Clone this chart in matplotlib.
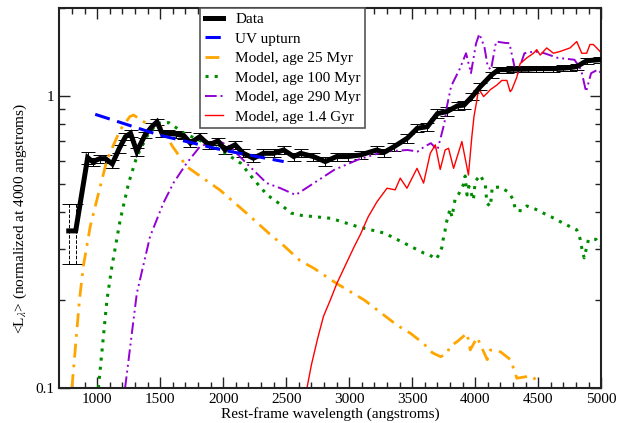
import numpy as np
import matplotlib
matplotlib.use('Agg')
import matplotlib.pyplot as plt
from matplotlib.ticker import FixedLocator, NullFormatter, FixedFormatter

plt.rcParams['font.family'] = ['Liberation Serif', 'DejaVu Serif']
plt.rcParams['mathtext.fontset'] = 'stix'

# stacked spectrum (data) with error bars
data_wl = [775, 830, 925, 965, 1020, 1065, 1120, 1175, 1225, 1265, 1315, 1380, 1435, 1475,
           1515, 1565, 1625, 1690, 1740, 1815, 1885, 1960, 2015, 2095, 2160, 2240, 2320,
           2400, 2480, 2560, 2615, 2715, 2810, 2900, 2990, 3090, 3220, 3275, 3355, 3460,
           3540, 3620, 3700, 3775, 3860, 3910, 3975, 4040, 4130, 4185, 4250, 4300, 4360,
           4420, 4480, 4540, 4620, 4700, 4750, 4805, 4885, 4990]
data_val = [0.345, 0.345, 0.615, 0.595, 0.61, 0.61, 0.585, 0.66, 0.725, 0.745, 0.645, 0.735,
            0.785, 0.815, 0.745, 0.745, 0.74, 0.73, 0.69, 0.725, 0.68, 0.70, 0.653, 0.68,
            0.636, 0.612, 0.636, 0.636, 0.653, 0.62, 0.636, 0.62, 0.596, 0.62, 0.62, 0.628,
            0.653, 0.64, 0.67, 0.716, 0.775, 0.785, 0.87, 0.884, 0.925, 0.93, 0.995, 1.076,
            1.18, 1.23, 1.23, 1.235, 1.234, 1.235, 1.24, 1.24, 1.24, 1.245, 1.25, 1.26,
            1.32, 1.33]
data_err = [0.08, 0.08, 0.03, 0.02, 0.02, 0.02, 0.02, 0.02, 0.02, 0.02, 0.02, 0.02,
            0.02, 0.02, 0.02, 0.02, 0.02, 0.02, 0.02, 0.02, 0.02, 0.02, 0.02, 0.02,
            0.02, 0.02, 0.02, 0.02, 0.02, 0.02, 0.02, 0.02, 0.02, 0.02, 0.02, 0.02,
            0.02, 0.02, 0.02, 0.025, 0.025, 0.025, 0.03, 0.03, 0.03, 0.03, 0.03, 0.03,
            0.03, 0.03, 0.03, 0.03, 0.03, 0.03, 0.03, 0.03, 0.03, 0.03, 0.03, 0.03,
            0.03, 0.03]

# UV upturn fit
uv_wl = [985, 1500, 2000, 2480]
uv_val = [0.865, 0.733, 0.652, 0.596]

# model, 25 Myr
m25_wl = [800, 860, 890, 945, 1025, 1078, 1183, 1260, 1290, 1360, 1430, 1470, 1500, 1535,
          1600, 1710, 1975, 2185, 2395, 2460, 2610, 2720, 2900, 3120, 3380, 3485, 3590,
          3660, 3725, 3775, 3800, 3855, 3935, 3960, 4015, 4095, 4120, 4200, 4280, 4330,
          4440, 4520]
m25_val = [0.1, 0.2, 0.26, 0.357, 0.49, 0.604, 0.765, 0.85, 0.86, 0.82, 0.79, 0.81, 0.79,
           0.745, 0.67, 0.573, 0.476, 0.397, 0.329, 0.313, 0.273, 0.257, 0.228, 0.2, 0.164,
           0.154, 0.142, 0.132, 0.128, 0.131, 0.139, 0.144, 0.154, 0.135, 0.149, 0.125,
           0.135, 0.133, 0.125, 0.108, 0.11, 0.104]

# model, 100 Myr
m100_wl = [1010, 1078, 1117, 1183, 1250, 1315, 1395, 1475, 1570, 1690, 1980, 2140, 2245,
           2350, 2455, 2540, 2620, 2855, 3065, 3280, 3465, 3590, 3640, 3690, 3715, 3735,
           3745, 3760, 3770, 3800, 3815, 3840, 3865, 3905, 3920, 3935, 3950, 3985, 4000,
           4040, 4080, 4092, 4120, 4135, 4200, 4265, 4303, 4318, 4370, 4410, 4475, 4540,
           4610, 4675, 4740, 4805, 4832, 4846, 4864, 4898, 4957, 5000]
m100_val = [0.1, 0.2, 0.26, 0.376, 0.503, 0.62, 0.726, 0.806, 0.81, 0.745, 0.653, 0.588,
            0.516, 0.458, 0.425, 0.397, 0.39, 0.381, 0.357, 0.339, 0.309, 0.29, 0.285,
            0.276, 0.288, 0.303, 0.322, 0.345, 0.367, 0.41, 0.385, 0.443, 0.458, 0.496,
            0.532, 0.458, 0.49, 0.44, 0.51, 0.536, 0.496, 0.43, 0.418, 0.487, 0.487, 0.468,
            0.44, 0.407, 0.404, 0.42, 0.41, 0.397, 0.384, 0.371, 0.359, 0.348, 0.324, 0.3,
            0.279, 0.322, 0.323, 0.306]

# model, 290 Myr
m290_wl = [1222, 1315, 1420, 1525, 1605, 1710, 1815, 1950, 2055, 2185, 2345, 2455, 2575,
           2720, 2880, 3065, 3278, 3463, 3543, 3595, 3648, 3700, 3728, 3755, 3775, 3808,
           3827, 3874, 3927, 3966, 4006, 4032, 4072, 4099, 4125, 4165, 4231, 4271, 4311,
           4337, 4390, 4470, 4548, 4654, 4787, 4840, 4879, 4919, 4972, 5000]
m290_val = [0.1, 0.211, 0.33, 0.429, 0.503, 0.588, 0.67, 0.707, 0.67, 0.588, 0.503, 0.483,
            0.458, 0.503, 0.558, 0.604, 0.645, 0.653, 0.645, 0.67, 0.689, 0.653, 0.726,
            0.806, 0.92, 1.076, 1.12, 1.23, 1.4, 1.196, 1.51, 1.63, 1.476, 1.26, 1.23,
            1.535, 1.52, 1.515, 1.26, 1.196, 1.4, 1.42, 1.4, 1.35, 1.33, 1.23, 1.034,
            1.196, 1.23, 1.196]

# model, 1.4 Gyr
m14_wl = [2665, 2700, 2750, 2796, 2850, 2902, 2982, 3040, 3088, 3150, 3220, 3300, 3365,
          3405, 3458, 3538, 3590, 3643, 3683, 3722, 3761, 3788, 3828, 3894, 3946, 3973,
          3990, 4013, 4026, 4066, 4092, 4119, 4172, 4211, 4251, 4277, 4290, 4330, 4356,
          4409, 4462, 4488, 4515, 4567, 4620, 4673, 4752, 4805, 4845, 4884, 4910, 4937,
          4990]
m14_val = [0.1, 0.12, 0.148, 0.176, 0.2, 0.228, 0.27, 0.305, 0.335, 0.385, 0.434, 0.483,
           0.477, 0.523, 0.483, 0.565, 0.503, 0.636, 0.68, 0.56, 0.653, 0.662, 0.565, 0.698,
           0.536, 0.726, 0.85, 0.969, 1.06, 0.995, 1.02, 1.05, 1.09, 1.13, 1.13, 1.034,
           1.05, 1.16, 1.29, 1.35, 1.4, 1.44, 1.38, 1.46, 1.4, 1.42, 1.46, 1.535, 1.4, 1.4,
           1.5, 1.5, 1.42]

fig = plt.figure(figsize=(6.34, 4.23), dpi=100)
ax = fig.add_axes([59.3 / 634, 1 - 388 / 423, (601.3 - 59.3) / 634, (388 - 8) / 423])

# error bars: first two dashed, rest solid
eb = ax.errorbar(data_wl[:2], data_val[:2], yerr=data_err[:2], fmt='none', ecolor='black',
                 elinewidth=0.7, capsize=5, capthick=0.7)
eb[2][0].set_linestyle('--')
ax.errorbar(data_wl[2:], data_val[2:], yerr=data_err[2:], fmt='none', ecolor='black',
            elinewidth=0.7, capsize=5, capthick=0.7)

ax.plot(m25_wl, m25_val, color='#ffa500', lw=2.0, ls=(0, (5, 2.5, 1, 2.5)),
        label='Model, age 25 Myr')
ax.plot(m100_wl, m100_val, color='#008c00', lw=2.2, ls=(0, (1, 2.0)),
        label='Model, age 100 Myr')
ax.plot(m290_wl, m290_val, color='#9400d3', lw=1.4, ls=(0, (6, 2, 1, 2, 1, 2)),
        label='Model, age 290 Myr')
ax.plot(m14_wl, m14_val, color='red', lw=1.0, label='Model, age 1.4 Gyr')
ax.plot(data_wl, data_val, color='black', lw=3.6, solid_joinstyle='miter', label='Data',
        zorder=5)
ax.plot(uv_wl, uv_val, color='#0000ff', lw=2.2, ls=(0, (5, 2.5)), label='UV upturn', zorder=6)

ax.set_yscale('log')
ax.set_xlim(700, 5000)
ax.set_ylim(0.1, 2)

ax.xaxis.set_major_locator(FixedLocator([1000, 1500, 2000, 2500, 3000, 3500, 4000, 4500, 5000]))
ax.xaxis.set_minor_locator(FixedLocator(list(range(800, 5000, 100))))
ax.yaxis.set_major_locator(FixedLocator([0.1, 1]))
ax.yaxis.set_major_formatter(FixedFormatter(['0.1', '1']))
ax.yaxis.set_minor_locator(FixedLocator([0.2, 0.3, 0.4, 0.5, 0.6, 0.7, 0.8, 0.9, 2]))
ax.yaxis.set_minor_formatter(NullFormatter())

ax.tick_params(which='both', direction='in', top=True, right=True, width=1.0,
               labelsize=11, color='#222222')
ax.tick_params(which='major', length=8)
ax.tick_params(which='minor', length=4)
for s in ax.spines.values():
    s.set_linewidth(1.5)
    s.set_color('#222222')

ax.set_xlabel('Rest-frame wavelength (angstroms)', fontsize=11, labelpad=1)
ax.set_ylabel(r'<L$_\lambda$> (normalized at 4000 angstroms)', fontsize=11)
ax.yaxis.set_label_coords(-0.056, 0.445)

handles, labels = ax.get_legend_handles_labels()
order = ['Data', 'UV upturn', 'Model, age 25 Myr', 'Model, age 100 Myr',
         'Model, age 290 Myr', 'Model, age 1.4 Gyr']
hl = dict(zip(labels, handles))
leg = ax.legend([hl[k] for k in order], order, loc='upper left', bbox_to_anchor=(0.26, 1.0),
                borderaxespad=0, fontsize=11, fancybox=False, framealpha=1,
                edgecolor='#555555', handlelength=1.2, labelspacing=0.38,
                borderpad=0.3, handletextpad=0.8)
leg.get_frame().set_linewidth(1.2)

fig.savefig('out.png', dpi=100)
